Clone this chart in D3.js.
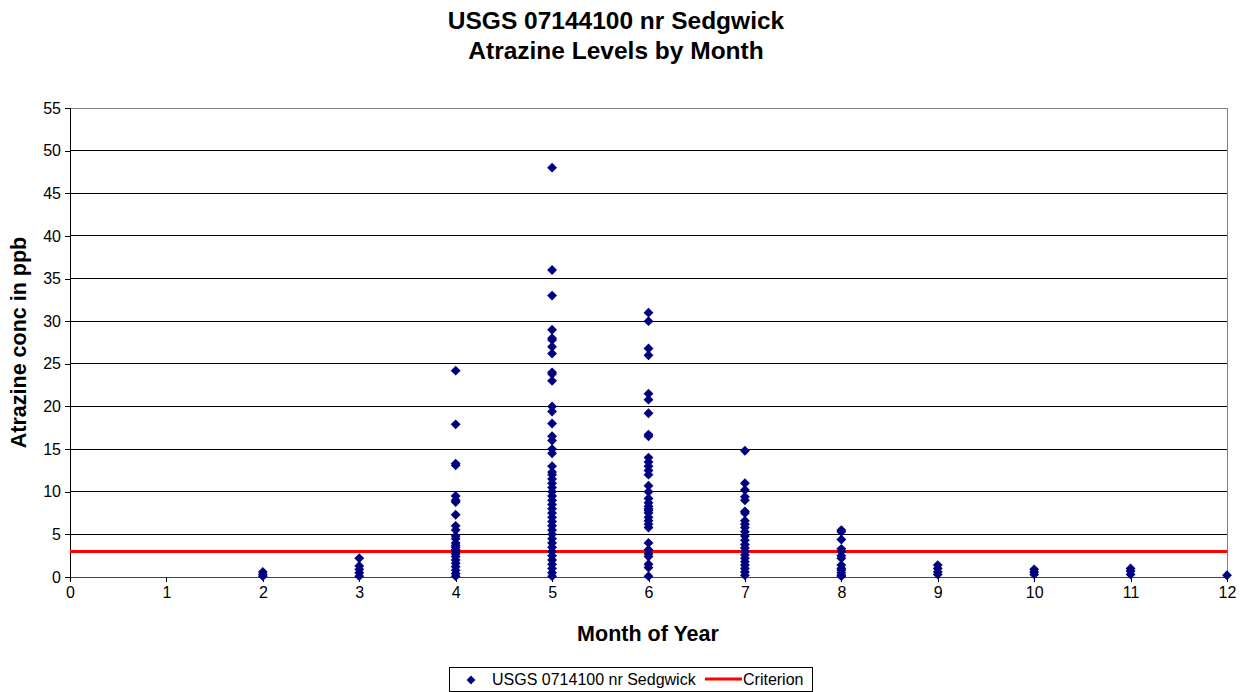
<!DOCTYPE html>
<html>
<head>
<meta charset="utf-8">
<script src="https://cdn.jsdelivr.net/npm/d3@7"></script>
<style>
body { margin: 0; background: #fff; }
svg text { font-family: Arial, "Liberation Sans", sans-serif; }
</style>
</head>
<body>
<svg id="chart" width="1241" height="692"></svg>
<script>
// readings by month (ppb)
var feb = [0.6, 0.3, 0.1];
var mar = [2.2, 1.3, 0.9, 0.5, 0.1];
var apr = [24.2, 17.9, 13.3, 13.1, 9.5, 9.0, 8.8, 7.3, 6.0, 5.5, 4.8, 4.5, 4.0, 3.7, 3.5, 3.2, 3.0, 2.7, 2.4, 2.0, 1.6, 1.2, 0.8, 0.4, 0.1];
var may = [48, 36, 33, 29, 28, 27.8, 27, 26.2, 24, 23.8, 23, 20, 19.4, 18, 16.5, 16, 15, 14.5, 13, 12.3, 12, 11.5, 11, 10.5, 10, 9.5, 9, 8.5, 8, 7.5, 7, 6.5, 6, 5.5, 5, 4.5, 4, 3.5, 3, 2.5, 2, 1.5, 1, 0.5, 0.1];
var jun = [31, 30, 26.8, 26, 21.5, 20.8, 19.2, 16.7, 16.5, 14, 13.5, 13, 12.5, 12, 10.7, 10, 9.2, 8.7, 8.3, 8, 7.8, 7.5, 7, 6.6, 6.2, 5.8, 4, 3.2, 2.7, 2.4, 1.5, 1.1, 0.1];
var jul = [14.8, 11, 10.2, 9.4, 9.0, 7.7, 7.5, 6.6, 6.2, 5.8, 5.3, 4.8, 4.3, 3.8, 3.4, 3.0, 2.6, 2.2, 1.8, 1.4, 1.0, 0.6, 0.2];
var aug = [5.5, 5.3, 4.4, 3.3, 3.0, 2.5, 2.2, 1.4, 1.0, 0.8, 0.5, 0.2, 0.1];
var sep = [1.4, 1.0, 0.6, 0.3];
var oct = [0.9, 0.6, 0.3];
var nov = [1.0, 0.7, 0.3];
var dec = [0.2];
var monthData = [[2, feb], [3, mar], [4, apr], [5, may], [6, jun], [7, jul], [8, aug], [9, sep], [10, oct], [11, nov], [12, dec]];
var criterion = 3;
var xTicks = d3.range(0, 13);
var yTicks = d3.range(0, 56, 5);

var points = [];
monthData.forEach(function(m) {
	m[1].forEach(function(v) { points.push({month: m[0], value: v}); });
});

var svg = d3.select("#chart");
var plotL = 70, plotR = 1227, plotT = 108, plotB = 577;

var x = d3.scaleLinear().domain([0, 12]).range([plotL, plotR]);
var y = d3.scaleLinear().domain([0, 55]).range([plotB, plotT]);

//Titles
svg.append("text").attr("x", 616).attr("y", 29).attr("text-anchor", "middle")
	.style("font-size", "24.5px").style("font-weight", "bold").text("USGS 07144100 nr Sedgwick");
svg.append("text").attr("x", 616).attr("y", 59).attr("text-anchor", "middle")
	.style("font-size", "24.5px").style("font-weight", "bold").text("Atrazine Levels by Month");

//Gridlines
svg.selectAll("line.grid").data(yTicks.slice(1)).enter().append("line")
	.attr("class", "grid")
	.attr("x1", plotL).attr("x2", plotR)
	.attr("y1", function(d) { return y(d); }).attr("y2", function(d) { return y(d); })
	.attr("stroke", "#000").attr("stroke-width", 1).attr("shape-rendering", "crispEdges");

//Plot border
svg.append("rect").attr("x", plotL).attr("y", plotT).attr("width", plotR - plotL).attr("height", plotB - plotT)
	.attr("fill", "none").attr("stroke", "#808080").attr("stroke-width", 1).attr("shape-rendering", "crispEdges");

//Axes
var yAxis = d3.axisLeft(y).tickValues(yTicks).tickSize(5).tickPadding(4);
var gy = svg.append("g").attr("transform", "translate(" + plotL + ",0)").call(yAxis);
gy.select(".domain").attr("stroke", "#000");
gy.selectAll("line").attr("stroke", "#000");
gy.selectAll("text").style("font-size", "16px").attr("fill", "#000");

var xAxis = d3.axisBottom(x).tickValues(xTicks).tickSize(5).tickPadding(5);
var gx = svg.append("g").attr("transform", "translate(0," + plotB + ")").call(xAxis);
gx.select(".domain").attr("stroke", "#444");
gx.selectAll("line").attr("stroke", "#000");
gx.selectAll("text").style("font-size", "16px").attr("fill", "#000");
svg.selectAll(".domain, .tick line").attr("shape-rendering", "crispEdges");

//Axis titles
svg.append("text").attr("x", 648).attr("y", 641).attr("text-anchor", "middle")
	.style("font-size", "21.5px").style("font-weight", "bold").text("Month of Year");
svg.append("text").attr("transform", "translate(26," + ((plotT + plotB) / 2) + ") rotate(-90)")
	.attr("text-anchor", "middle")
	.style("font-size", "21.5px").style("font-weight", "bold").text("Atrazine conc in ppb");

//Criterion line
svg.append("line").attr("x1", plotL).attr("x2", plotR)
	.attr("y1", y(criterion)).attr("y2", y(criterion))
	.attr("stroke", "#ff0000").attr("stroke-width", 3);

//Points
var diamond = d3.symbol().type(d3.symbolDiamond2).size(62);
svg.selectAll("path.pt").data(points).enter().append("path")
	.attr("class", "pt")
	.attr("d", diamond)
	.attr("transform", function(d) { return "translate(" + x(d.month) + "," + y(d.value) + ")"; })
	.attr("fill", "#000080");

//Legend
var lg = svg.append("g").attr("transform", "translate(449,667)");
lg.append("rect").attr("width", 363).attr("height", 24).attr("fill", "#fff")
	.attr("stroke", "#000").attr("stroke-width", 1).attr("shape-rendering", "crispEdges");
lg.append("path").attr("d", d3.symbol().type(d3.symbolDiamond2).size(50))
	.attr("transform", "translate(22,13)").attr("fill", "#000080");
lg.append("text").attr("x", 43).attr("y", 18).style("font-size", "16px").text("USGS 0714100 nr Sedgwick");
lg.append("line").attr("x1", 256).attr("x2", 293).attr("y1", 12).attr("y2", 12)
	.attr("stroke", "#ff0000").attr("stroke-width", 3);
lg.append("text").attr("x", 294).attr("y", 18).style("font-size", "16px").text("Criterion");
</script>
</body>
</html>
